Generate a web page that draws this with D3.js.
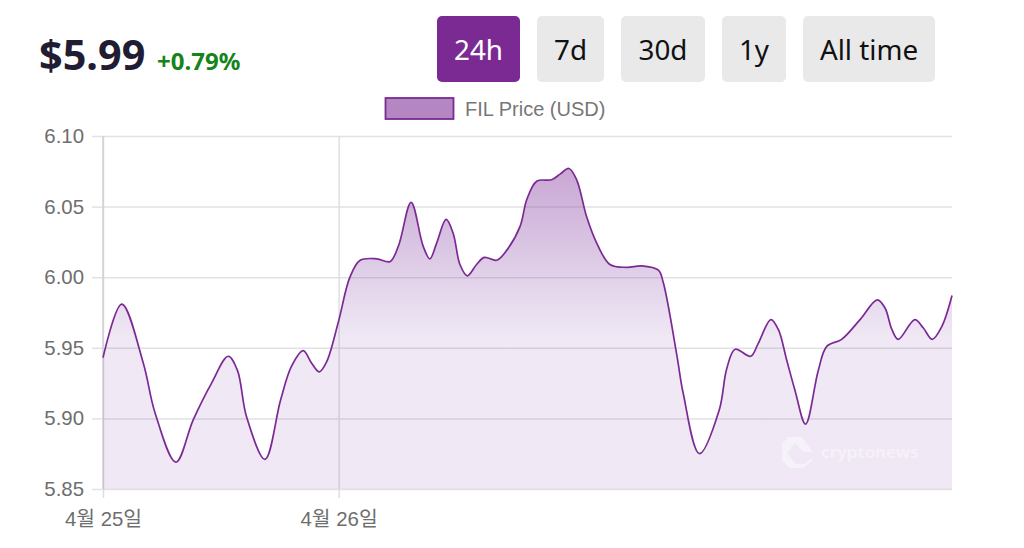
<!DOCTYPE html>
<html><head><meta charset="utf-8">
<script src="https://cdn.jsdelivr.net/npm/d3@7"></script>
<style>
html,body{margin:0;padding:0;background:#fff;overflow:hidden}
svg{display:block}
.ui{font-family:"Noto Sans","Open Sans",sans-serif}
.ax text{font-family:"Liberation Sans","Noto Sans CJK KR",sans-serif;font-size:20.4px;fill:#6e6e6e}
</style></head><body><svg id="c" width="1024" height="548"></svg>
<script>
const hours=[0,0.53,1.14,1.47,2.06,2.55,3.07,3.54,3.80,4.06,4.58,5.02,5.33,5.66,5.90,6.11,6.32,6.65,6.98,7.27,7.74,8.11,8.35,8.71,9.05,9.24,9.43,9.70,9.90,10.09,10.30,10.56,10.78,11.13,11.41,11.79,11.98,12.26,12.68,12.92,13.17,13.39,13.67,13.96,14.33,14.80,15.23,15.70,15.84,16.22,16.40,16.86,17.42,17.63,17.87,18.31,18.52,18.88,19.09,19.33,19.56,19.86,20.22,20.46,20.88,21.40,21.89,22.11,22.30,22.48,22.95,23.19,23.44,23.71,24];
const prices=[5.943,5.981,5.939,5.904,5.869,5.899,5.925,5.944,5.934,5.901,5.871,5.913,5.937,5.948,5.939,5.933,5.940,5.968,6.000,6.012,6.013,6.011,6.022,6.053,6.022,6.013,6.024,6.041,6.031,6.009,6.001,6.009,6.014,6.012,6.019,6.036,6.055,6.068,6.069,6.073,6.077,6.069,6.043,6.024,6.009,6.007,6.008,6.005,5.996,5.945,5.918,5.875,5.906,5.935,5.949,5.944,5.953,5.970,5.963,5.941,5.920,5.896,5.934,5.951,5.956,5.970,5.984,5.978,5.963,5.956,5.970,5.964,5.956,5.965,5.987];
const yTicks=[5.85,5.90,5.95,6.00,6.05,6.10];
const xTickHours=[0,6.66];
const xTickLabels=["4월 25일","4월 26일"];
const buttons=["24h","7d","30d","1y","All time"];
const buttonEdges=[[437,520],[537,604],[621,705],[722,786],[803,935]];
const seriesName="FIL Price (USD)";

const svg=d3.select("#c");
const purple="#7b2a94";
const L=103,R=952,T=136,B=489;
const x=d3.scaleLinear().domain([0,24]).range([L,R]);
const y=d3.scaleLinear().domain([5.85,6.10]).range([B,T]);
const rows=hours.map((h,i)=>({h,p:prices[i]}));

const defs=svg.append("defs");
const g=defs.append("linearGradient").attr("id","fillG").attr("gradientUnits","userSpaceOnUse")
  .attr("x1",0).attr("x2",0).attr("y1",165).attr("y2",338);
g.append("stop").attr("offset",0).attr("stop-color","#7b2a94").attr("stop-opacity",0.42);
g.append("stop").attr("offset",1).attr("stop-color","#742ea0").attr("stop-opacity",0.11);

// grid
const gy=svg.append("g").attr("class","ax").attr("transform",`translate(${L},0)`)
  .call(d3.axisLeft(y).tickValues(yTicks).tickFormat(d3.format(".2f")).tickSize(11).tickPadding(8));
gy.select(".domain").remove();
gy.selectAll("line").attr("stroke","#e2e2e2").attr("stroke-width",1.5);
gy.selectAll(".tick").append("line").attr("x1",0).attr("x2",R-L).attr("stroke","#e2e2e2").attr("stroke-width",1.5);

const gx=svg.append("g").attr("class","ax").attr("transform",`translate(0,${B})`)
  .call(d3.axisBottom(x).tickValues(xTickHours).tickFormat((d,i)=>xTickLabels[i]).tickSize(9).tickPadding(14));
gx.select(".domain").remove();
gx.selectAll("line").attr("stroke","#dcdcdc").attr("stroke-width",1.4);
gx.selectAll(".tick").append("line").attr("y1",0).attr("y2",T-B).attr("stroke","#dcdcdc").attr("stroke-width",1.4);
svg.append("line").attr("x1",L).attr("x2",L).attr("y1",T).attr("y2",B).attr("stroke","#d0d0d0").attr("stroke-width",1.4);

const curve=d3.curveCatmullRom.alpha(0.5);
svg.append("path").datum(rows).attr("fill","url(#fillG)")
  .attr("d",d3.area().x(d=>x(d.h)).y0(y(5.85)).y1(d=>y(d.p)).curve(curve));
svg.append("path").datum(rows).attr("fill","none").attr("stroke",purple).attr("stroke-width",1.7)
  .attr("d",d3.line().x(d=>x(d.h)).y(d=>y(d.p)).curve(curve));

// watermark
const wm=svg.append("g").attr("fill","#fff").attr("fill-opacity",0.42);
wm.append("path").attr("d","M788 437H802L813 452L803 452L795 443L787 453L796 464H805L811 458L813 460L803 468H789L782 460V444Z");
wm.append("text").attr("x",821).attr("y",458).attr("font-family","'Noto Sans',sans-serif").attr("font-weight",700).attr("font-size",16.8).text("cryptonews");

// header
svg.append("text").attr("class","ui").attr("x",39).attr("y",70).attr("font-size",41.4).attr("font-weight",700).attr("fill","#1f1c33").text("$5.99");
svg.append("text").attr("class","ui").attr("x",157).attr("y",70).attr("font-size",24).attr("font-weight",700).attr("fill","#15841a").text("+0.79%");

// buttons
buttons.forEach((b,i)=>{
  const [a,c]=buttonEdges[i];
  svg.append("rect").attr("x",a).attr("y",16).attr("width",c-a).attr("height",66).attr("rx",5)
    .attr("fill",i===0?"#7b2a94":"#e9e9e9");
  svg.append("text").attr("class","ui").attr("x",(a+c)/2).attr("y",60).attr("text-anchor","middle")
    .attr("font-size",27.8).attr("fill",i===0?"#fff":"#111").text(b);
});

// legend
svg.append("rect").attr("x",385.5).attr("y",98).attr("width",68).attr("height",21).attr("fill","#b486c2").attr("stroke",purple).attr("stroke-width",1.8);
svg.append("text").attr("x",465).attr("y",115.5).attr("font-family","'Liberation Sans',sans-serif").attr("font-size",20).attr("fill","#777").text(seriesName);
</script></body></html>
